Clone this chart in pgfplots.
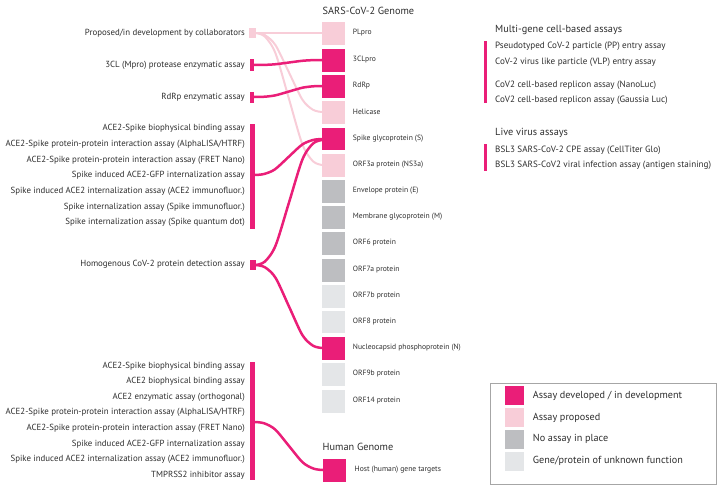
\documentclass[border=0pt]{standalone}
\usepackage{pgfplots}
\pgfplotsset{compat=1.18}
\usepackage{fontspec}
\setmainfont{PT Sans}
\definecolor{mag}{RGB}{234,30,120}
\definecolor{pale}{RGB}{248,205,216}
\definecolor{gr}{RGB}{189,190,193}
\definecolor{lt}{RGB}{228,230,232}
\definecolor{txt}{RGB}{45,45,45}
\begin{document}
\begin{tikzpicture}
\begin{axis}[hide axis, scale only axis, width=720pt, height=487pt,
  xmin=0, xmax=720, ymin=0, ymax=487, y dir=reverse, clip=false]
% invisible frame
\addplot[draw=none] coordinates {(0,0) (720,487)};
% pale connectors
\addplot[pale, line width=2pt] coordinates {(256,33) (322,33)};
\addplot[pale, line width=2pt, smooth] coordinates {(256,33) (265,35.2) (275.6,45.3) (289,72.5) (302.4,99.7) (313,109.8) (322,112)};
\addplot[pale, line width=2pt, smooth] coordinates {(256,33) (265,36.7) (275.6,53.6) (289,99) (302.4,144.4) (313,161.3) (322,165)};
% magenta connectors
\addplot[mag, line width=2.5pt, smooth] coordinates {(254,65) (265,64.86) (275.6,64.22) (289,62.5) (302.4,60.78) (313,60.14) (322,60)};
\addplot[mag, line width=2.5pt, smooth] coordinates {(254,97) (265,96.69) (275.6,95.28) (289,91.5) (302.4,87.72) (313,86.31) (322,86)};
\addplot[mag, line width=2.5pt, smooth] coordinates {(255,175) (264.1,173.99) (274.9,169.38) (288.5,157) (302.1,144.62) (312.9,140.01) (322,139)};
\addplot[mag, line width=2.5pt, smooth] coordinates {(256,265) (265,261.5) (275.6,245.5) (289,202.5) (302.4,159.5) (313,143.5) (322,140)};
\addplot[mag, line width=2.5pt, smooth] coordinates {(256,265) (265,267.3) (275.6,277.9) (289,306.5) (302.4,335.1) (313,345.7) (322,348)};
\addplot[mag, line width=2.5pt, smooth] coordinates {(255,422) (264.2,423.3) (275.2,429.5) (289,446) (302.8,462.5) (313.8,468.7) (323,470)};
% brackets / bars
\addplot[fill=pale, draw=none] coordinates {(249,28) (256,28) (256,38) (249,38)} --cycle;
\addplot[fill=mag, draw=none] coordinates {(250,59.5) (254,59.5) (254,71) (250,71)} --cycle;
\addplot[fill=mag, draw=none] coordinates {(250,92) (254,92) (254,103) (250,103)} --cycle;
\addplot[fill=mag, draw=none] coordinates {(250,124) (255,124) (255,228.5) (250,228.5)} --cycle;
\addplot[fill=mag, draw=none] coordinates {(250,260) (256,260) (256,269.5) (250,269.5)} --cycle;
\addplot[fill=mag, draw=none] coordinates {(250,361.5) (255,361.5) (255,480) (250,480)} --cycle;
\addplot[fill=mag, draw=none] coordinates {(483.5,40.7) (487,40.7) (487,103.3) (483.5,103.3)} --cycle;
\addplot[fill=mag, draw=none] coordinates {(483.5,144) (487,144) (487,170.7) (483.5,170.7)} --cycle;
% genome boxes
\addplot[only marks, mark=square*, mark size=10.8pt, color=mag] coordinates {(333,60) (333,86) (333,138.5) (333,348) (334,470)};
\addplot[only marks, mark=square*, mark size=10.8pt, color=pale] coordinates {(333,33) (333,112) (333,165)};
\addplot[only marks, mark=square*, mark size=10.8pt, color=gr] coordinates {(333,191) (333,217) (333,243) (333,270)};
\addplot[only marks, mark=square*, mark size=10.8pt, color=lt] coordinates {(333,296) (333,321.5) (333,374) (333,401)};
% legend
\addplot[draw=gray!70, line width=0.8pt] coordinates {(490.7,383.3) (716.7,383.3) (716.7,484.3) (490.7,484.3)} --cycle;
\addplot[only marks, mark=square*, mark size=9pt, color=mag] coordinates {(514.5,395)};
\addplot[only marks, mark=square*, mark size=9pt, color=pale] coordinates {(514.5,417)};
\addplot[only marks, mark=square*, mark size=9pt, color=gr] coordinates {(514.5,439)};
\addplot[only marks, mark=square*, mark size=9pt, color=lt] coordinates {(514.5,461)};
% question marks
\node[white, font=\fontsize{6}{7}\selectfont] at (axis cs:333,296) {?};
\node[white, font=\fontsize{6}{7}\selectfont] at (axis cs:333,321.5) {?};
\node[white, font=\fontsize{6}{7}\selectfont] at (axis cs:333,374) {?};
\node[white, font=\fontsize{6}{7}\selectfont] at (axis cs:333,401) {?};
\node[white, font=\fontsize{6}{7}\selectfont] at (axis cs:514.5,461) {?};
% left labels
\begin{scope}[every node/.style={anchor=east, text=txt, font=\fontsize{8.85}{10}\selectfont, inner sep=0pt}]
\node at (axis cs:245,33) {Proposed/in development by collaborators};
\node at (axis cs:245,65) {3CL (Mpro) protease enzymatic assay};
\node at (axis cs:245,97.5) {RdRp enzymatic assay};
\node at (axis cs:245,128.5) {ACE2-Spike biophysical binding assay};
\node at (axis cs:245,144.3) {ACE2-Spike protein-protein interaction assay (AlphaLISA/HTRF)};
\node at (axis cs:245,160) {ACE2-Spike protein-protein interaction assay (FRET Nano)};
\node at (axis cs:245,175.7) {Spike induced ACE2-GFP internalization assay};
\node at (axis cs:245,191.5) {Spike induced ACE2 internalization assay (ACE2 immunofluor.)};
\node at (axis cs:245,207) {Spike internalization assay (Spike immunofluor.)};
\node at (axis cs:245,222.5) {Spike internalization assay (Spike quantum dot)};
\node at (axis cs:245,264) {Homogenous CoV-2 protein detection assay};
\node at (axis cs:245,366) {ACE2-Spike biophysical binding assay};
\node at (axis cs:245,381.7) {ACE2 biophysical binding assay};
\node at (axis cs:245,397) {ACE2 enzymatic assay (orthogonal)};
\node at (axis cs:245,412.7) {ACE2-Spike protein-protein interaction assay (AlphaLISA/HTRF)};
\node at (axis cs:245,428.3) {ACE2-Spike protein-protein interaction assay (FRET Nano)};
\node at (axis cs:245,444) {Spike induced ACE2-GFP internalization assay};
\node at (axis cs:245,459.5) {Spike induced ACE2 internalization assay (ACE2 immunofluor.)};
\node at (axis cs:245,475) {TMPRSS2 inhibitor assay};
\end{scope}
% genome labels
\begin{scope}[every node/.style={anchor=west, text=txt, font=\fontsize{7.6}{9}\selectfont, inner sep=0pt}]
\node at (axis cs:352.7,33) {PLpro};
\node at (axis cs:352.7,60) {3CLpro};
\node at (axis cs:352.7,86) {RdRp};
\node at (axis cs:352.7,112) {Helicase};
\node at (axis cs:352.7,138.5) {Spike glycoprotein (S)};
\node at (axis cs:352.7,165) {ORF3a protein (NS3a)};
\node at (axis cs:352.7,191) {Envelope protein (E)};
\node at (axis cs:352.7,217) {Membrane glycoprotein (M)};
\node at (axis cs:352.7,243) {ORF6 protein};
\node at (axis cs:352.7,270) {ORF7a protein};
\node at (axis cs:352.7,296) {ORF7b protein};
\node at (axis cs:352.7,321.5) {ORF8 protein};
\node at (axis cs:352.7,348) {Nucleocapsid phosphoprotein (N)};
\node at (axis cs:352.7,374) {ORF9b protein};
\node at (axis cs:352.7,401) {ORF14 protein};
\node at (axis cs:354.5,470) {Host (human) gene targets};
\end{scope}
% titles
\begin{scope}[every node/.style={anchor=west, text=txt, font=\fontsize{10.3}{12}\selectfont, inner sep=0pt}]
\node at (axis cs:322.5,10.7) {SARS-CoV-2 Genome};
\node at (axis cs:322.5,447.3) {Human Genome};
\node at (axis cs:495,29.5) {Multi-gene cell-based assays};
\node at (axis cs:495,132.5) {Live virus assays};
\end{scope}
% right items
\begin{scope}[every node/.style={anchor=west, text=txt, font=\fontsize{9.1}{10}\selectfont, inner sep=0pt}]
\node at (axis cs:495,46.7) {Pseudotyped CoV-2 particle (PP) entry assay};
\node at (axis cs:495,62.3) {CoV-2 virus like particle (VLP) entry assay};
\node at (axis cs:495,85) {CoV2 cell-based replicon assay (NanoLuc)};
\node at (axis cs:495,100) {CoV2 cell-based replicon assay (Gaussia Luc)};
\node at (axis cs:495,150) {BSL3 SARS-CoV-2 CPE assay (CellTiter Glo)};
\node at (axis cs:495,165) {BSL3 SARS-CoV2 viral infection assay (antigen staining)};
\end{scope}
% legend text
\begin{scope}[every node/.style={anchor=west, text=txt, font=\fontsize{10.2}{12}\selectfont, inner sep=0pt}]
\node at (axis cs:532.7,396) {Assay developed / in development};
\node at (axis cs:532.7,417.7) {Assay proposed};
\node at (axis cs:532.7,439) {No assay in place};
\node at (axis cs:532.7,461) {Gene/protein of unknown function};
\end{scope}
\end{axis}
\end{tikzpicture}
\end{document}
